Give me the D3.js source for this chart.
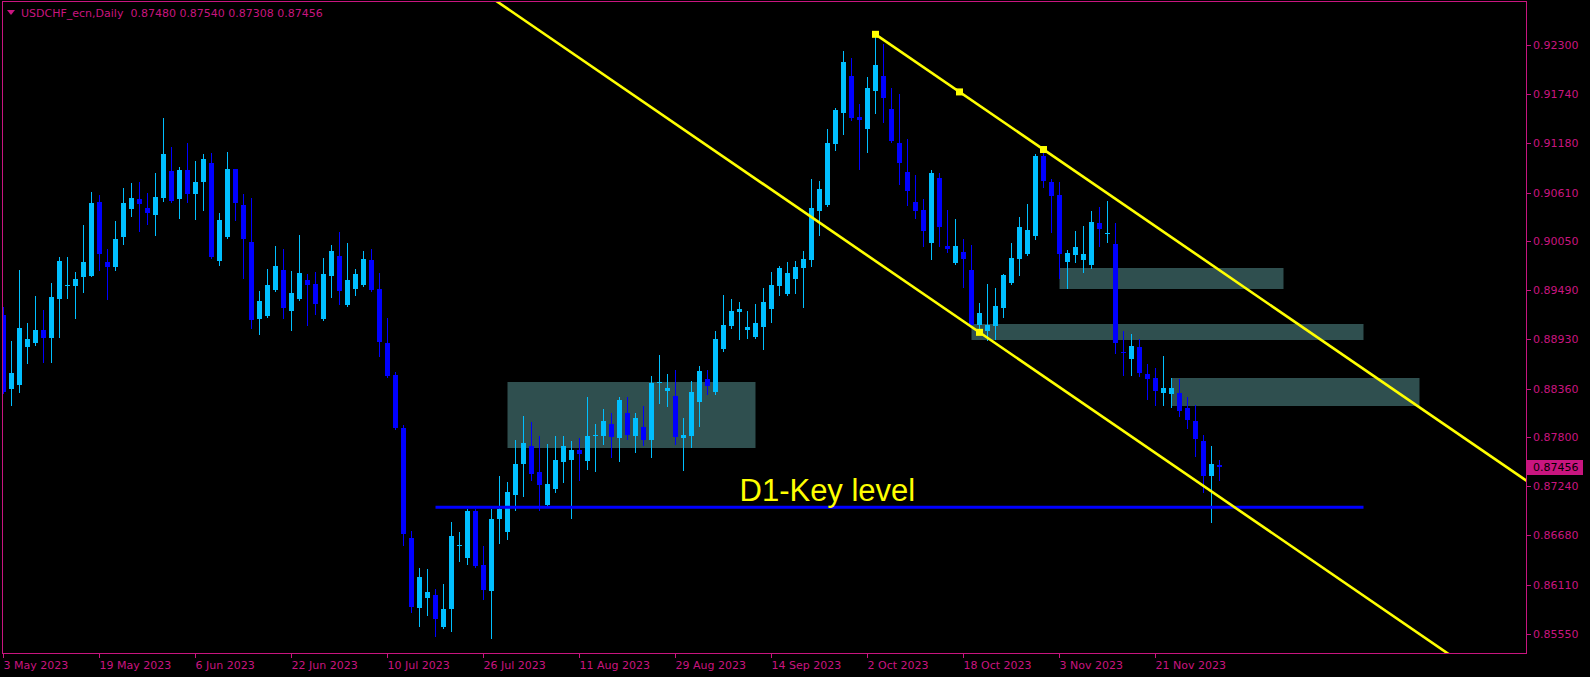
<!DOCTYPE html>
<html><head><meta charset="utf-8">
<script src="https://cdn.jsdelivr.net/npm/d3@7"></script>
<style>html,body{margin:0;padding:0;background:#000;overflow:hidden}</style>
</head><body><svg id="c" width="1590" height="677"></svg>
<script>
// ---- DATA (USDCHF_ecn, Daily) ----
const symbolTitle = "USDCHF_ecn,Daily";
const lastQuote = ["0.87480", "0.87540", "0.87308", "0.87456"];
const open = [0.89205,0.88360,0.88402,0.88838,0.88884,0.89033,0.88941,0.89389,0.89542,0.89538,
0.89641,0.89653,0.90502,0.89813,0.89756,0.90100,0.90421,0.90536,0.90433,0.90353,
0.90548,0.90858,0.90536,0.90869,0.90594,0.90731,0.90949,0.89825,0.90100,0.90880,
0.90467,0.90043,0.89159,0.89194,0.89492,0.89721,0.89251,0.89389,0.89607,0.89561,
0.89159,0.89653,0.89882,0.89320,0.89503,0.89549,0.89836,0.89503,0.88884,0.88516,
0.87908,0.86646,0.85843,0.85957,0.85992,0.85624,0.85831,0.86558,0.86416,0.86956,
0.86336,0.86038,0.86864,0.86715,0.87139,0.87495,0.87702,0.87403,0.87025,0.87208,
0.87518,0.87541,0.87656,0.87529,0.87820,0.87816,0.87954,0.87793,0.88080,0.87816,
0.87920,0.87770,0.88428,0.88333,0.88275,0.87793,0.87816,0.88207,0.88471,0.88321,
0.88815,0.89079,0.89239,0.89033,0.88953,0.89067,0.89274,0.89538,0.89446,0.89618,
0.89744,0.89836,0.90398,0.90467,0.91167,0.91523,0.91948,0.91477,0.91339,0.91776,
0.91948,0.91569,0.91179,0.90846,0.90502,0.90410,0.90031,0.90777,0.89997,0.89802,
0.89928,0.89721,0.89090,0.89021,0.89079,0.89285,0.89572,0.89848,0.89905,0.90112,
0.91030,0.90731,0.90582,0.89813,0.89894,0.89836,0.89779,0.90261,0.90142,0.90020,
0.88784,0.88700,0.88838,0.88528,0.88482,0.88310,0.88298,0.88310,0.88138,0.87989,
0.87759,0.87357,0.87480];
const high = [0.89301,0.88907,0.89721,0.89113,0.89423,0.89262,0.89572,0.89871,0.89871,0.89698,
0.90238,0.90617,0.90582,0.89962,0.90284,0.90662,0.90720,0.90731,0.90605,0.90835,
0.91466,0.91133,0.90903,0.91179,0.90972,0.91053,0.91064,0.90376,0.91076,0.90884,
0.90594,0.90548,0.89480,0.89733,0.89997,0.89962,0.89710,0.90123,0.89676,0.89698,
0.89859,0.90008,0.90157,0.90031,0.89733,0.89939,0.89962,0.89687,0.89171,0.88551,
0.87943,0.86726,0.86302,0.86290,0.86061,0.86118,0.86829,0.86715,0.86979,0.86979,
0.86554,0.86979,0.87357,0.87289,0.87770,0.88046,0.87977,0.87816,0.87725,0.87816,
0.87816,0.87759,0.87793,0.88264,0.87954,0.88126,0.88080,0.88264,0.88264,0.88080,
0.88161,0.88505,0.88746,0.88528,0.88574,0.88023,0.88448,0.88620,0.88574,0.89021,
0.89435,0.89389,0.89354,0.89251,0.89331,0.89515,0.89698,0.89767,0.89813,0.89825,
0.89939,0.90766,0.90743,0.91339,0.91580,0.92235,0.92154,0.91626,0.91936,0.92430,
0.92315,0.91810,0.91741,0.91225,0.90812,0.90536,0.90869,0.90835,0.90410,0.90307,
0.90077,0.90008,0.89343,0.89561,0.89515,0.89676,0.90031,0.90330,0.90479,0.91053,
0.91110,0.90766,0.90731,0.89951,0.90169,0.90226,0.90399,0.90444,0.90513,0.90261,
0.89021,0.88987,0.88930,0.88643,0.88597,0.88734,0.88482,0.88471,0.88264,0.88172,
0.87828,0.87702,0.87540];
const low = [0.88306,0.88172,0.88321,0.88654,0.88861,0.88666,0.88666,0.88953,0.89400,0.89171,
0.89469,0.89650,0.89721,0.89389,0.89721,0.90020,0.90341,0.90169,0.90249,0.90123,
0.90513,0.90502,0.90318,0.90502,0.90307,0.90410,0.89863,0.89779,0.90089,0.90295,
0.89630,0.89060,0.88987,0.89186,0.89480,0.89171,0.89033,0.89377,0.89090,0.89216,
0.89151,0.89412,0.89331,0.89312,0.89434,0.89542,0.89480,0.88734,0.88493,0.87900,
0.86566,0.85797,0.85636,0.85762,0.85521,0.85617,0.85578,0.86382,0.86347,0.86316,
0.85946,0.85498,0.86588,0.86634,0.86967,0.87128,0.87311,0.86967,0.87013,0.87174,
0.87289,0.86875,0.87311,0.87438,0.87415,0.87725,0.87575,0.87529,0.87782,0.87633,
0.87713,0.87575,0.88195,0.88161,0.87725,0.87426,0.87690,0.87931,0.88298,0.88298,
0.88792,0.89056,0.88930,0.88941,0.88945,0.88815,0.89125,0.89435,0.89435,0.89457,
0.89297,0.89767,0.90123,0.90459,0.91098,0.91282,0.91443,0.90880,0.91076,0.91523,
0.91420,0.91190,0.90708,0.90467,0.90318,0.89997,0.89848,0.89997,0.89928,0.89794,
0.89526,0.89079,0.89010,0.88918,0.88930,0.89182,0.89565,0.89664,0.89897,0.90077,
0.90674,0.90158,0.89630,0.89515,0.89813,0.89698,0.89744,0.89997,0.90043,0.88769,
0.88516,0.88516,0.88505,0.88241,0.88172,0.88172,0.88149,0.88046,0.87908,0.87587,
0.87174,0.86829,0.87308];
const close = [0.88325,0.88539,0.89056,0.88930,0.89033,0.88941,0.89412,0.89825,0.89549,0.89618,
0.89813,0.90490,0.89905,0.89756,0.90077,0.90490,0.90548,0.90479,0.90376,0.90559,
0.91053,0.90513,0.90869,0.90594,0.90731,0.90995,0.89871,0.90295,0.90880,0.90490,
0.90077,0.89151,0.89366,0.89549,0.89767,0.89285,0.89457,0.89687,0.89549,0.89331,
0.89676,0.89939,0.89480,0.89607,0.89676,0.89848,0.89492,0.88895,0.88505,0.87908,
0.86692,0.85854,0.86198,0.86026,0.85716,0.85831,0.86669,0.86562,0.86956,0.86324,
0.86049,0.86864,0.86979,0.87174,0.87495,0.87736,0.87380,0.87254,0.87266,0.87541,
0.87702,0.87656,0.87610,0.87816,0.87828,0.87989,0.87805,0.88230,0.87828,0.88023,
0.87770,0.88425,0.88436,0.88367,0.87805,0.87828,0.88321,0.88562,0.88390,0.88930,
0.89090,0.89251,0.89274,0.89067,0.89113,0.89354,0.89549,0.89744,0.89687,0.89756,
0.89848,0.90433,0.90651,0.91179,0.91558,0.92108,0.91466,0.91443,0.91810,0.92074,
0.91695,0.91202,0.90949,0.90628,0.90398,0.90169,0.90835,0.90215,0.89962,0.89997,
0.89848,0.89090,0.89228,0.89090,0.89308,0.89664,0.89859,0.90215,0.90180,0.91030,
0.90743,0.90571,0.89905,0.89917,0.89985,0.89905,0.90272,0.90192,0.90150,0.88884,
0.88776,0.88849,0.88539,0.88471,0.88333,0.88367,0.88367,0.88103,0.88000,0.87782,
0.87357,0.87495,0.87456];

const xTickIdx = [0,12,24,36,48,60,72,84,96,108,120,132,144];
const xTickLabels = ["3 May 2023","19 May 2023","6 Jun 2023","22 Jun 2023","10 Jul 2023","26 Jul 2023",
  "11 Aug 2023","29 Aug 2023","14 Sep 2023","2 Oct 2023","18 Oct 2023","3 Nov 2023","21 Nov 2023"];
const yTickValues = [0.92300,0.91740,0.91180,0.90610,0.90050,0.89490,0.88930,0.88360,0.87800,0.87240,0.86680,0.86110,0.85550];

// supply/demand zones
const zoneStart = [63,132,121,146];
const zoneEnd   = [94,160,170,177];
const zoneTop   = [0.88436,0.89744,0.89102,0.88482];
const zoneBottom= [0.87682,0.89503,0.88922,0.88164];

// key level
const keyLevelPrice = 0.87000, keyLevelStart = 54, keyLevelEnd = 170;
const keyLabel = "D1-Key level", keyLabelIdx = 92, keyLabelPrice = 0.87071;

// equidistant channel anchors (bar index, price)
const channelIdx = [109,130,122];
const channelPrice = [0.92426,0.91104,0.89006];

// ---- LAYOUT ----
const W = 1590, H = 677;
const pink = "#c8157f";
const bull = "#00bfff", bear = "#0000ff";
const plot = {l:2.5, t:1.5, r:1526.5, b:653.5};

const svg = d3.select("#c");
svg.append("rect").attr("width",W).attr("height",H).attr("fill","#000");

const x = d3.scaleLinear().domain([0,190]).range([3.5, 1523.5]);
const y = d3.scaleLinear().domain([0.8555, 0.923]).range([633.5, 45.3]);

svg.append("defs").append("clipPath").attr("id","pc")
  .append("rect").attr("x",plot.l+0.5).attr("y",plot.t+0.5)
  .attr("width",plot.r-plot.l-1).attr("height",plot.b-plot.t-1);

const g = svg.append("g").attr("clip-path","url(#pc)");

// zones (background)
const zones = d3.range(zoneStart.length);
g.selectAll("rect.zone").data(zones).join("rect").attr("class","zone")
  .attr("x", i => x(zoneStart[i]))
  .attr("y", i => Math.round(y(zoneTop[i])))
  .attr("width", i => x(zoneEnd[i]) - x(zoneStart[i]))
  .attr("height", i => Math.round(y(zoneBottom[i])) - Math.round(y(zoneTop[i])))
  .attr("fill","#2f4f4f");

// candles
const bars = d3.range(open.length);
const cg = g.append("g").attr("shape-rendering","crispEdges");
cg.selectAll("line.wick").data(bars).join("line").attr("class","wick")
  .attr("x1", i => x(i)).attr("x2", i => x(i))
  .attr("y1", i => Math.round(y(high[i]))).attr("y2", i => Math.round(y(low[i]))+1)
  .attr("stroke", i => close[i] >= open[i] ? bull : bear).attr("stroke-width",1);
cg.selectAll("rect.body").data(bars).join("rect").attr("class","body")
  .attr("x", i => x(i) - 2.5).attr("width", 5)
  .attr("y", i => Math.round(y(Math.max(open[i], close[i]))))
  .attr("height", i => Math.max(1, Math.round(y(Math.min(open[i], close[i]))) - Math.round(y(Math.max(open[i], close[i])))))
  .attr("fill", i => close[i] >= open[i] ? bull : bear);

// key level line
g.append("line")
  .attr("x1", x(keyLevelStart)).attr("x2", x(keyLevelEnd))
  .attr("y1", y(keyLevelPrice)).attr("y2", y(keyLevelPrice))
  .attr("stroke", "#0000ff").attr("stroke-width", 3);

// channel
const slope = (channelPrice[1]-channelPrice[0])/(channelIdx[1]-channelIdx[0]);
const upper = k => channelPrice[0] + slope*(k - channelIdx[0]);
const lower = k => channelPrice[2] + slope*(k - channelIdx[2]);
g.append("line")
  .attr("x1", x(channelIdx[0])).attr("y1", y(upper(channelIdx[0])))
  .attr("x2", x(200)).attr("y2", y(upper(200)))
  .attr("stroke","#ffff00").attr("stroke-width",2.6);
g.append("line")
  .attr("x1", x(40)).attr("y1", y(lower(40)))
  .attr("x2", x(200)).attr("y2", y(lower(200)))
  .attr("stroke","#ffff00").attr("stroke-width",2.6);
const handles = [[channelIdx[0], upper(channelIdx[0])],
                 [(channelIdx[0]+channelIdx[1])/2, upper((channelIdx[0]+channelIdx[1])/2)],
                 [channelIdx[1], upper(channelIdx[1])],
                 [channelIdx[2], lower(channelIdx[2])]];
g.selectAll("rect.h").data(handles).join("rect").attr("class","h")
  .attr("x", d => x(d[0]) - 3.5).attr("y", d => y(d[1]) - 3.5)
  .attr("width",7).attr("height",7).attr("fill","#ffff00");

// key label
g.append("text").attr("x", x(keyLabelIdx)).attr("y", y(keyLabelPrice))
  .attr("fill","#ffff00").attr("font-family","'Liberation Sans', Arial, sans-serif")
  .attr("font-size", 31).text(keyLabel);

// frame
svg.append("rect").attr("x",plot.l).attr("y",plot.t)
  .attr("width",plot.r-plot.l).attr("height",plot.b-plot.t)
  .attr("fill","none").attr("stroke",pink).attr("stroke-width",1)
  .attr("shape-rendering","crispEdges");

const font = "'DejaVu Sans', sans-serif";

// y axis
const ya = svg.append("g");
ya.selectAll("line").data(yTickValues).join("line")
  .attr("x1", plot.r).attr("x2", plot.r+4)
  .attr("y1", d => Math.round(y(d))+0.5).attr("y2", d => Math.round(y(d))+0.5)
  .attr("stroke", pink).attr("shape-rendering","crispEdges");
ya.selectAll("text").data(yTickValues).join("text")
  .attr("x", 1533).attr("y", d => y(d)+4)
  .attr("fill", pink).attr("font-family", font).attr("font-size", 11)
  .text(d => d.toFixed(5));

// current price label
const lastC = close[close.length-1];
svg.append("rect").attr("x", plot.r+0.5).attr("y", Math.round(y(lastC)) - 7)
  .attr("width", 56).attr("height", 15).attr("fill", pink);
svg.append("text").attr("x", 1533).attr("y", y(lastC)+4)
  .attr("fill","#000").attr("font-family",font).attr("font-size",11)
  .text(lastC.toFixed(5));

// x axis
const xa = svg.append("g");
xa.selectAll("line").data(xTickIdx).join("line")
  .attr("x1", d => x(d)).attr("x2", d => x(d))
  .attr("y1", plot.b).attr("y2", plot.b+4)
  .attr("stroke", pink).attr("shape-rendering","crispEdges");
xa.selectAll("text").data(xTickIdx).join("text")
  .attr("x", d => x(d)).attr("y", 669)
  .attr("fill", pink).attr("font-family", font).attr("font-size", 11)
  .text((d,i) => xTickLabels[i]);

// header
svg.append("path").attr("d","M7,10 L15,10 L11,15 Z").attr("fill",pink);
svg.append("text").attr("x",21).attr("y",17)
  .attr("fill",pink).attr("font-family",font).attr("font-size",11)
  .attr("xml:space","preserve")
  .text(symbolTitle + "  " + lastQuote.join(" "));
</script></body></html>
